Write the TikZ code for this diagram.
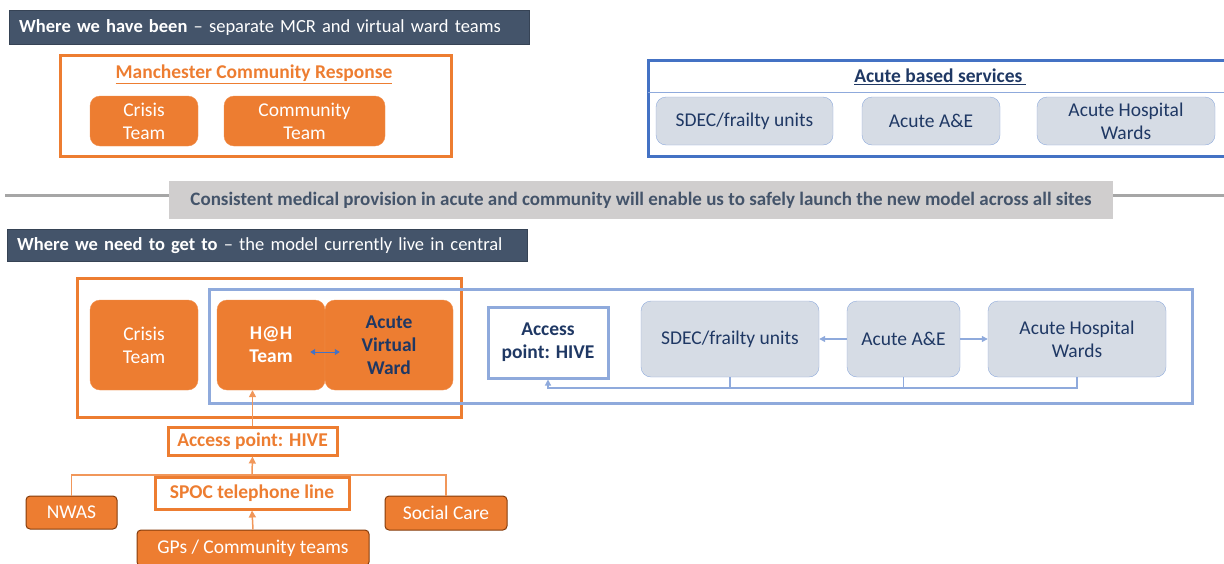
\documentclass[tikz,border=0pt]{standalone}
\usepackage{fontspec}
\setmainfont{Carlito}
\usetikzlibrary{arrows.meta}

\definecolor{mcrorange}{HTML}{ED7D31}
\definecolor{slate}{HTML}{44546A}
\definecolor{navy}{HTML}{1F3864}
\definecolor{acuteblue}{HTML}{4472C4}
\definecolor{paleblue}{HTML}{8FAADC}
\definecolor{greyfill}{HTML}{D6DCE5}
\definecolor{bannergrey}{HTML}{D0CECE}
\definecolor{rustedge}{HTML}{843C0C}

\newcommand{\boxfont}{\fontsize{19.5}{23}\selectfont}
\newcommand{\headfont}{\fontsize{18.5}{22}\selectfont}

\tikzset{
  header/.style={fill=slate, draw=slate!80!black, text=white, anchor=north west,
    inner xsep=10pt, inner ysep=0pt, text width=500pt, align=left, font=\headfont},
  frame/.style={draw=#1, line width=3pt, inner sep=0pt},
  team/.style={fill=mcrorange, draw=mcrorange!85!white, rounded corners=10pt,
    text=white, align=center, inner sep=0pt, font=\boxfont},
  acute/.style={fill=greyfill, draw=paleblue, rounded corners=10pt,
    text=navy, align=center, inner sep=0pt, font=\boxfont},
  source/.style={fill=mcrorange, draw=rustedge, rounded corners=4pt, line width=1pt,
    text=white, inner sep=0pt, font=\boxfont},
  hivebox/.style={fill=white, draw=mcrorange, line width=3pt, text=mcrorange,
    inner sep=0pt, font=\boxfont\bfseries},
  feed/.style={draw=mcrorange!80!white, line width=1.5pt, -{Triangle[length=7pt,width=7pt]}},
  loop/.style={draw=paleblue, line width=1.2pt},
}

\begin{document}
\begin{tikzpicture}[x=1pt, y=-1pt]
  \useasboundingbox (0,0) rectangle (1224,563);
  \clip (0,0) rectangle (1224,563);

  % Where we have been
  \node[header, minimum height=34pt] (been) at (9,10)
    {\textbf{Where we have been} -- separate MCR and virtual ward teams};

  % Manchester Community Response
  \node[frame=mcrorange, minimum width=391, minimum height=101] (mcr) at (255.5,105.5) {};
  \node[text=mcrorange, font=\boxfont\bfseries] (mcrtitle) at (254,74)
    {\underline{Manchester Community Response}};
  \node[team, minimum width=108, minimum height=50] (crisis) at (144,121) {Crisis\\Team};
  \node[team, minimum width=161, minimum height=50] (community) at (304.5,121) {Community\\Team};

  % Acute based services
  \node[frame=acuteblue, minimum width=582, minimum height=96] (acutebox) at (939,108) {};
  \draw[paleblue, thin] (648,92) -- (1224,92);
  \node[text=navy, font=\boxfont\bfseries] (acutetitle) at (940,77)
    {\underline{Acute based services\,}};
  \node[acute, minimum width=177, minimum height=48] (sdec) at (744.5,121) {SDEC/frailty units};
  \node[acute, minimum width=138, minimum height=48] (ae) at (931,121) {Acute A\&E};
  \node[acute, minimum width=178, minimum height=48] (wards) at (1126,121) {Acute Hospital\\Wards};

  % Banner across the middle
  \draw[gray!70, line width=3pt] (5,195) -- (1224,195);
  \node[fill=bannergrey, minimum width=944, minimum height=38, inner sep=0pt,
    text=slate, font=\fontsize{19}{22}\selectfont\bfseries] (banner) at (641,200)
    {Consistent medical provision in acute and community will enable us to safely launch the new model across all sites};

  % Where we need to get to
  \node[header, minimum height=32pt] (getto) at (7,229)
    {\textbf{Where we need to get to} -- the model currently live in central};

  % Community side
  \node[frame=mcrorange, minimum width=384, minimum height=139] (mcrnew) at (269,347.5) {};
  \node[frame=paleblue, minimum width=983, minimum height=114] (hive) at (700.5,346) {};
  \node[team, minimum width=108, minimum height=90] (crisisnew) at (144,345) {Crisis\\Team};
  \node[team, minimum width=108, minimum height=90, font=\boxfont\bfseries] (hah) at (271,345) {H@H\\Team};
  \node[team, minimum width=128, minimum height=90, text=navy, font=\boxfont\bfseries] (avw) at (389,345)
    {Acute\\Virtual\\Ward};
  \draw[acuteblue, line width=1pt, {Triangle[length=5pt,width=6pt]}-{Triangle[length=5pt,width=6pt]}]
    ([xshift=-15pt,yshift=-7pt]hah.east) -- ([xshift=15pt,yshift=-7pt]avw.west);

  % Acute side
  \node[fill=white, draw=paleblue, line width=3pt, minimum width=120, minimum height=71,
    inner sep=0pt, align=center, text=navy, font=\boxfont\bfseries] (hivenew) at (548,342.5)
    {Access\\point: HIVE};
  \node[acute, minimum width=178, minimum height=76] (sdecnew) at (730,339) {SDEC/frailty units};
  \node[acute, minimum width=113, minimum height=76] (aenew) at (903.5,339) {Acute A\&E};
  \node[acute, minimum width=178, minimum height=76] (wardsnew) at (1077,339) {Acute Hospital\\Wards};
  \draw[loop, -{Triangle[length=6pt,width=6pt]}] (aenew) -- (sdecnew);
  \draw[loop, -{Triangle[length=6pt,width=6pt]}] (aenew) -- (wardsnew);
  % back to the access point
  \coordinate (back) at (0,388);
  \draw[loop, -{Triangle[length=6pt,width=6pt]}] (wardsnew.south) -- (wardsnew.south |- back) -| (hivenew.south);
  \draw[loop] (sdecnew.south) -- (sdecnew.south |- back);
  \draw[loop] (aenew.south) -- (aenew.south |- back);

  % Referral route
  \node[hivebox, minimum width=169, minimum height=28] (hiveaccess) at (252.5,441) {Access point: HIVE};
  \node[hivebox, minimum width=194, minimum height=32] (spoc) at (252,493) {SPOC telephone line};
  \node[source, minimum width=91, minimum height=33] (nwas) at (71.5,512.5) {NWAS};
  \node[source, minimum width=122, minimum height=34] (social) at (446,513) {Social Care};
  \node[source, minimum width=232, minimum height=36] (gps) at (253,548) {GPs / Community teams};
  \draw[feed] (hiveaccess.north) -- (hiveaccess.north |- hah.south);
  \draw[feed] (spoc.north) -- (hiveaccess.south);
  \draw[feed] (gps.north) -- (spoc.south);
  \coordinate (split) at (253,475);
  \draw[mcrorange!80!white, line width=1.5pt] (nwas.north) |- (split) -| (social.north);
\end{tikzpicture}
\end{document}
